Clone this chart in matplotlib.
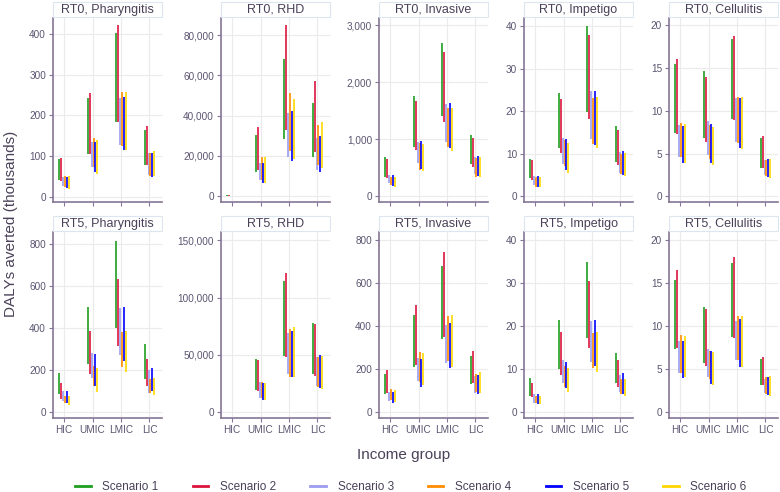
import numpy as np
import matplotlib
matplotlib.use("Agg")
import matplotlib.pyplot as plt
from matplotlib.patches import Rectangle
from matplotlib.lines import Line2D
from matplotlib.ticker import FuncFormatter, MultipleLocator

plt.rcParams['font.family'] = ['Liberation Sans', 'DejaVu Sans']

income = ["HIC", "UMIC", "LMIC", "LIC"]
scenarios = ["Scenario 1", "Scenario 2", "Scenario 3", "Scenario 4", "Scenario 5", "Scenario 6"]
colors = ["#1E9E1E", "#DC143C", "#9C9CF0", "#FF8C00", "#0000FF", "#FFD700"]
nan = np.nan

# low / high of each range, one row per scenario, columns = income groups
rt0_phar_lo = [[41, 104, 184, 78], [38, 104, 184, 78], [26, 74, 127, 53],
               [25, 74, 125, 51], [22, 61, 115, 49], [20, 57, 115, 51]]
rt0_phar_hi = [[92, 242, 402, 164], [96, 254, 422, 174], [49, 135, 243, 107],
               [51, 145, 258, 108], [49, 135, 246, 107], [51, 139, 258, 112]]

rt0_rhd_lo = [[60, 12100, 28200, 19200], [60, 12900, 33000, 22000], [30, 8000, 19200, 12900],
              [30, 8000, 22200, 15400], [20, 6600, 17400, 12100], [20, 6600, 18200, 13700]]
rt0_rhd_hi = [[250, 30300, 68000, 46400], [300, 34500, 85000, 57300], [150, 16200, 41000, 28700],
              [170, 19500, 51300, 35300], [150, 16600, 42400, 29800], [170, 19200, 48000, 37000]]

rt0_inv_lo = [[344, 870, 1407, 566], [315, 811, 1308, 520], [228, 580, 957, 385],
              [198, 461, 870, 344], [181, 473, 852, 356], [169, 450, 800, 344]]
rt0_inv_hi = [[695, 1763, 2691, 1074], [654, 1670, 2534, 1016], [374, 957, 1617, 695],
              [344, 928, 1541, 665], [374, 969, 1640, 712], [344, 917, 1541, 689]]

rt0_imp_lo = [[4.2, 11.3, 19.9, 8.1], [3.8, 10.3, 18.3, 7.4], [2.7, 7.6, 13.4, 5.4],
              [2.3, 7.1, 12.4, 5.2], [2.3, 6.2, 12.1, 5.0], [2.1, 5.6, 11.3, 4.8]]
rt0_imp_hi = [[8.9, 24.3, 40.2, 16.5], [8.5, 23.0, 38.0, 15.6], [4.9, 13.8, 24.7, 10.5],
              [4.6, 13.2, 23.2, 9.9], [4.8, 13.4, 24.8, 10.7], [4.6, 12.6, 23.4, 10.1]]

rt0_cel_lo = [[7.4, 6.8, 9.0, 3.3], [7.3, 6.3, 8.9, 3.3], [4.6, 4.8, 6.3, 2.5],
              [4.6, 4.4, 6.2, 2.4], [3.9, 3.9, 5.6, 2.2], [3.9, 3.7, 5.5, 2.1]]
rt0_cel_hi = [[15.5, 14.7, 18.4, 6.8], [16.0, 14.0, 18.7, 7.0], [8.3, 8.8, 11.5, 4.3],
              [8.6, 8.3, 11.6, 4.3], [8.2, 8.5, 11.5, 4.4], [8.5, 8.1, 11.6, 4.4]]

rt5_phar_lo = [[85, 230, 403, 159], [62, 183, 317, 127], [55, 162, 273, 90],
               [45, 127, 217, 90], [45, 127, 244, 103], [35, 98, 194, 83]]
rt5_phar_hi = [[185, 500, 817, 325], [142, 387, 633, 252], [103, 284, 495, 202],
               [80, 222, 384, 159], [100, 276, 500, 213], [76, 213, 387, 165]]

rt5_rhd_lo = [[nan, 19200, 48900, 33200], [nan, 18600, 48400, 31500], [nan, 12500, 33200, 22700],
              [nan, 11900, 30900, 22100], [nan, 10500, 30300, 21300], [nan, 10500, 30900, 20100]]
rt5_rhd_hi = [[nan, 46000, 114500, 78100], [nan, 45400, 121200, 76900], [nan, 25900, 68700, 48400],
              [nan, 25900, 72500, 47800], [nan, 25600, 70800, 49800], [nan, 25000, 74600, 48900]]

rt5_inv_lo = [[84, 211, 339, 129], [90, 219, 351, 134], [53, 144, 227, 90],
              [56, 138, 239, 95], [43, 118, 203, 84], [48, 126, 211, 87]]
rt5_inv_hi = [[177, 452, 680, 261], [196, 499, 747, 286], [95, 253, 405, 170],
              [106, 278, 449, 177], [95, 249, 413, 171], [103, 273, 452, 185]]

rt5_imp_lo = [[3.8, 9.9, 17.3, 6.8], [3.6, 8.6, 15.0, 5.9], [2.2, 6.8, 11.7, 4.6],
              [2.0, 5.9, 10.3, 4.2], [1.9, 5.5, 10.6, 4.3], [1.9, 4.7, 9.2, 3.8]]
rt5_imp_hi = [[7.8, 21.4, 34.9, 13.8], [6.8, 18.6, 30.5, 12.1], [4.2, 12.1, 21.2, 8.6],
              [3.8, 10.6, 18.3, 7.6], [4.2, 11.7, 21.4, 9.0], [3.7, 10.3, 18.6, 7.7]]

rt5_cel_lo = [[7.3, 5.7, 8.7, 3.1], [7.5, 5.4, 8.6, 3.1], [4.6, 4.1, 6.0, 2.2],
              [4.5, 3.9, 6.0, 2.1], [4.0, 3.3, 5.3, 2.0], [4.1, 3.2, 5.3, 1.9]]
rt5_cel_hi = [[15.4, 12.2, 17.4, 6.2], [16.5, 12.0, 18.1, 6.4], [8.3, 7.3, 10.6, 3.9],
              [9.0, 7.1, 11.2, 4.1], [8.3, 7.1, 10.8, 4.1], [8.9, 7.0, 11.2, 4.2]]

# title, lows, highs, y limits, tick step
panels = [
    ("RT0, Pharyngitis", rt0_phar_lo, rt0_phar_hi, (-13, 439), 100),
    ("RT0, RHD", rt0_rhd_lo, rt0_rhd_hi, (-2980, 88450), 20000),
    ("RT0, Invasive", rt0_inv_lo, rt0_inv_hi, (-100, 3123), 1000),
    ("RT0, Impetigo", rt0_imp_lo, rt0_imp_hi, (-1.34, 42.0), 10),
    ("RT0, Cellulitis", rt0_cel_lo, rt0_cel_hi, (-0.67, 20.85), 5),
    ("RT5, Pharyngitis", rt5_phar_lo, rt5_phar_hi, (-27, 859), 200),
    ("RT5, RHD", rt5_rhd_lo, rt5_rhd_hi, (-5240, 157250), 50000),
    ("RT5, Invasive", rt5_inv_lo, rt5_inv_hi, (-28, 839), 200),
    ("RT5, Impetigo", rt5_imp_lo, rt5_imp_hi, (-1.4, 41.9), 10),
    ("RT5, Cellulitis", rt5_cel_lo, rt5_cel_hi, (-0.7, 20.97), 5),
]

W, H = 780, 492
txt = "#4a4158"
axc = "#857596"

fig = plt.figure(figsize=(W / 100, H / 100), dpi=100)


def box(x0, y0, x1, y1):
    # pixel box (origin top-left) -> figure fraction rect
    return [x0 / W, 1 - y1 / H, (x1 - x0) / W, (y1 - y0) / H]


col_left = [53, 221, 379, 524, 669]
pw = 109
rows = [(18, 202), (232, 418)]
xpos = np.arange(1, len(income) + 1)

for k, (title, lo, hi, ylim, step) in enumerate(panels):
    r, c = divmod(k, 5)
    x0 = col_left[c]
    top, bot = rows[r]
    ax = fig.add_axes(box(x0, top, x0 + pw, bot))
    ax.set_axisbelow(True)
    ax.grid(True, color="#ebebeb", lw=0.8)
    for i in range(len(scenarios)):
        ax.vlines(xpos + (i - 2.5) * 0.068, lo[i], hi[i], color=colors[i], lw=1.4, alpha=0.85)
    ax.set_xlim(0.61, 4.44)
    ax.set_ylim(*ylim)
    ax.set_xticks(xpos)
    if r == 1:
        ax.set_xticklabels(income)
    else:
        ax.set_xticklabels([])
    ax.yaxis.set_major_locator(MultipleLocator(step))
    ax.yaxis.set_major_formatter(FuncFormatter(lambda v, p: f"{v:,.0f}"))
    for s in ["top", "right"]:
        ax.spines[s].set_visible(False)
    for s in ["left", "bottom"]:
        ax.spines[s].set_color(axc)
        ax.spines[s].set_linewidth(1.2)
    ax.tick_params(colors=axc, length=3, width=0.8, labelsize=7.2, labelcolor="#5b5470", pad=2)
    # facet strip
    fig.add_artist(Rectangle((x0 / W, 1 - (top - 1) / H), pw / W, 15 / H, transform=fig.transFigure,
                             facecolor="white", edgecolor="#dbe6f1", lw=0.8))
    fig.text((x0 + pw / 2) / W, 1 - (top - 8.5) / H, title, ha="center", va="center",
             fontsize=9, color=txt)

fig.text(11 / W, 1 - 224 / H, "DALYs averted (thousands)", rotation=90, ha="center", va="center",
         fontsize=11, color=txt)
fig.text(404 / W, 1 - 455 / H, "Income group", ha="center", va="center", fontsize=11, color=txt)

handles = [Line2D([], [], color=col, lw=2) for col in colors]
fig.legend(handles, scenarios, loc="center", bbox_to_anchor=(411 / W, 1 - 487 / H), ncol=6,
           frameon=False, fontsize=8.5, handlelength=1.3, handletextpad=1.0, columnspacing=2.9,
           labelcolor=txt)

fig.savefig("out.png", dpi=100)
